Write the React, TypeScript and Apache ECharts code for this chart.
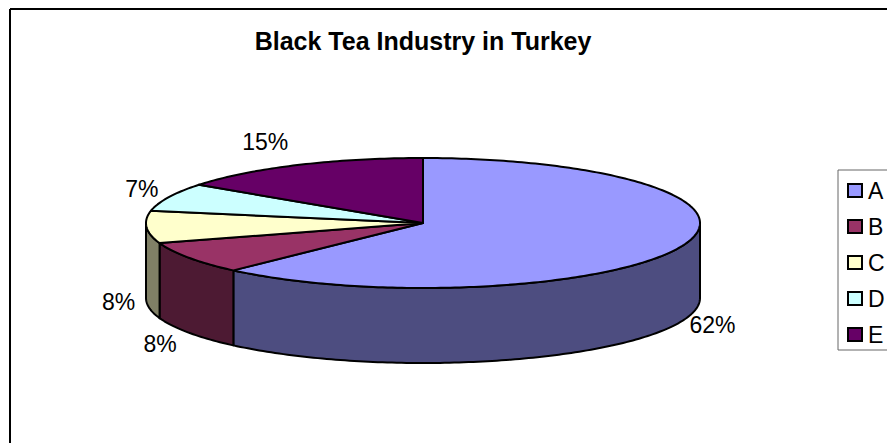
import React, { useEffect, useRef } from "react";
import * as echarts from "echarts";

const chartTitle = "Black Tea Industry in Turkey";
const categories = ["A", "B", "C", "D", "E"];
const shares = [62, 8, 8, 7, 15];
const topColors = ["#9999FF", "#993366", "#FFFFCC", "#CCFFFF", "#660066"];
const sideColors = ["#4D4D80", "#4D1A33", "#808066", "#668080", "#330033"];

// Percent label offset from the rim point at each slice's middle angle.
const labelOffsets = [
  [32, 3],
  [-29, 11],
  [-28, 0],
  [-27, -8],
  [-32, -23],
];

const FONT = '"Liberation Sans", Arial, sans-serif';
const CX = 423;
const CY = 223;
const RX = 277;
const RY = 65;
const DEPTH = 75;
const OUTLINE = 2;

const total = shares.reduce((s, v) => s + v, 0);
const rim = (deg: number, drop = 0) => {
  const t = (deg * Math.PI) / 180;
  return [CX + RX * Math.sin(t), CY - RY * Math.cos(t) + drop];
};
const arc = (from: number, to: number, drop = 0) => {
  const n = Math.max(2, Math.ceil(Math.abs(to - from)));
  const pts: number[][] = [];
  for (let i = 0; i <= n; i++) pts.push(rim(from + ((to - from) * i) / n, drop));
  return pts;
};

// Builds one tilted slice (wall, top face, percent label) from the series' value.
const sliceRenderer = (index: number) => (_params: any, api: any) => {
  const value = api.value(0);
  const start = (shares.slice(0, index).reduce((s, v) => s + v, 0) / total) * 360;
  const end = start + (value / total) * 360;
  const mid = (start + end) / 2;
  const children: any[] = [];

  // Only the part of the rim on the near half of the ellipse shows a wall.
  const wallFrom = Math.max(start, 90);
  const wallTo = Math.min(end, 270);
  if (wallTo > wallFrom) {
    children.push({
      type: "polygon",
      shape: { points: [...arc(wallFrom, wallTo), ...arc(wallTo, wallFrom, DEPTH)] },
      style: { fill: sideColors[index], stroke: "#000", lineWidth: OUTLINE, lineJoin: "round" },
    });
  }

  children.push({
    type: "polygon",
    shape: { points: [[CX, CY], ...arc(start, end)] },
    style: { fill: topColors[index], stroke: "#000", lineWidth: OUTLINE, lineJoin: "round" },
  });

  const onWall = mid > 90 && mid < 270;
  const [ax, ay] = rim(mid, onWall ? DEPTH : 0);
  children.push({
    type: "text",
    x: ax + labelOffsets[index][0],
    y: ay + labelOffsets[index][1],
    style: {
      text: `${value}%`,
      fill: "#000",
      font: `23px ${FONT}`,
      align: "center",
      verticalAlign: "middle",
    },
  });

  return { type: "group", children };
};

export default function App() {
  const ref = useRef<HTMLDivElement>(null);

  useEffect(() => {
    const chart = echarts.init(ref.current!, undefined, { renderer: "svg" });
    chart.setOption({
      animation: false,
      backgroundColor: "#fff",
      title: {
        text: chartTitle,
        left: 418,
        top: 23,
        textAlign: "center",
        textStyle: { fontFamily: FONT, fontSize: 25, fontWeight: "bold", color: "#000" },
      },
      legend: {
        data: categories,
        orient: "vertical",
        left: 838,
        top: 170,
        icon: "rect",
        itemWidth: 14,
        itemHeight: 13,
        itemGap: 13,
        selectedMode: false,
        padding: [9, 30, 4, 9],
        borderColor: "#666",
        borderWidth: 1,
        backgroundColor: "#fff",
        itemStyle: { borderColor: "#000", borderWidth: 2 },
        textStyle: { fontFamily: FONT, fontSize: 23, color: "#000", padding: [0, 0, 0, 1] },
      },
      graphic: [
        // Chart frame: only its top and left edges fall inside the page.
        {
          type: "line",
          shape: { x1: 10, y1: 9, x2: 887, y2: 9 },
          style: { stroke: "#000", lineWidth: 2 },
        },
        {
          type: "line",
          shape: { x1: 10, y1: 9, x2: 10, y2: 443 },
          style: { stroke: "#000", lineWidth: 2 },
        },
      ],
      series: categories.map((name, i) => ({
        type: "custom",
        name,
        coordinateSystem: "none",
        silent: true,
        itemStyle: { color: topColors[i] },
        data: [[shares[i]]],
        renderItem: sliceRenderer(i),
      })),
    });
    return () => chart.dispose();
  }, []);

  return <div ref={ref} style={{ position: "fixed", left: 0, top: 0, width: 887, height: 443 }} />;
}
